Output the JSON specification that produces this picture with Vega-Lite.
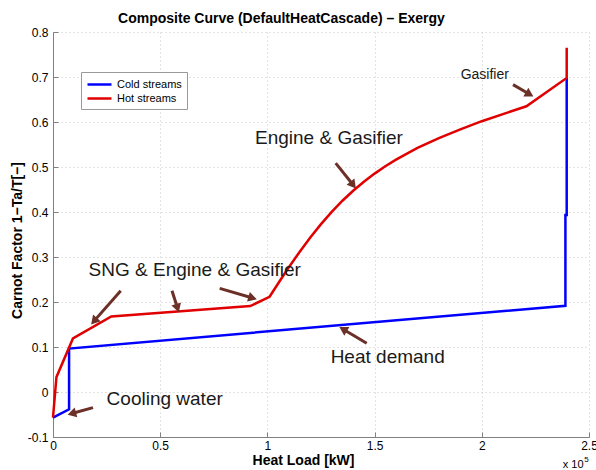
{
 "$schema": "https://vega.github.io/schema/vega-lite/v6.json",
 "width": 536, "height": 405,
 "autosize": "none",
 "padding": {"left": 53, "top": 32, "right": 7, "bottom": 33},
 "title": {"text": "Composite Curve (DefaultHeatCascade) – Exergy", "fontSize": 14, "fontWeight": "bold", "anchor": "middle", "dx": -39.5, "baseline": "alphabetic", "offset": -10.5, "color": "#000"},
 "datasets": {
  "curves": [
   {"stream": "Cold streams", "load": 0, "carnot": -0.057},
   {"stream": "Cold streams", "load": 7500, "carnot": -0.0385},
   {"stream": "Cold streams", "load": 7500, "carnot": 0.0966},
   {"stream": "Cold streams", "load": 239000, "carnot": 0.1915},
   {"stream": "Cold streams", "load": 239000, "carnot": 0.3935},
   {"stream": "Cold streams", "load": 239600, "carnot": 0.3935},
   {"stream": "Cold streams", "load": 239600, "carnot": 0.698},
   {"stream": "Hot streams", "load": 0, "carnot": -0.057},
   {"stream": "Hot streams", "load": 1600, "carnot": 0.033},
   {"stream": "Hot streams", "load": 9300, "carnot": 0.119},
   {"stream": "Hot streams", "load": 27200, "carnot": 0.168},
   {"stream": "Hot streams", "load": 92000, "carnot": 0.191},
   {"stream": "Hot streams", "load": 101000, "carnot": 0.2116},
   {"stream": "Hot streams", "load": 105000, "carnot": 0.2412},
   {"stream": "Hot streams", "load": 110000, "carnot": 0.2772},
   {"stream": "Hot streams", "load": 115000, "carnot": 0.3112},
   {"stream": "Hot streams", "load": 120000, "carnot": 0.3432},
   {"stream": "Hot streams", "load": 125000, "carnot": 0.373},
   {"stream": "Hot streams", "load": 130000, "carnot": 0.4003},
   {"stream": "Hot streams", "load": 135000, "carnot": 0.425},
   {"stream": "Hot streams", "load": 140000, "carnot": 0.4473},
   {"stream": "Hot streams", "load": 145000, "carnot": 0.4673},
   {"stream": "Hot streams", "load": 150000, "carnot": 0.4853},
   {"stream": "Hot streams", "load": 155000, "carnot": 0.5016},
   {"stream": "Hot streams", "load": 160000, "carnot": 0.5163},
   {"stream": "Hot streams", "load": 170000, "carnot": 0.5423},
   {"stream": "Hot streams", "load": 180000, "carnot": 0.5643},
   {"stream": "Hot streams", "load": 190000, "carnot": 0.5838},
   {"stream": "Hot streams", "load": 200000, "carnot": 0.6018},
   {"stream": "Hot streams", "load": 220800, "carnot": 0.635},
   {"stream": "Hot streams", "load": 239600, "carnot": 0.698},
   {"stream": "Hot streams", "load": 239600, "carnot": 0.765}
  ],
  "arrows": [
   {"label": "cooling", "x": 18660, "y": -0.0347, "x2": 8770, "y2": -0.0479},
   {"label": "snga", "x": 31580, "y": 0.225, "x2": 19120, "y2": 0.1575},
   {"label": "sngb", "x": 55500, "y": 0.2249, "x2": 58070, "y2": 0.1866},
   {"label": "sngc", "x": 77750, "y": 0.2303, "x2": 93100, "y2": 0.2089},
   {"label": "engine", "x": 131850, "y": 0.5087, "x2": 140020, "y2": 0.4599},
   {"label": "gasifier", "x": 214550, "y": 0.683, "x2": 222290, "y2": 0.6615},
   {"label": "heat", "x": 146320, "y": 0.1085, "x2": 135310, "y2": 0.1396}
  ],
  "labels": [
   {"text": "Cooling water", "x": 52100, "y": -0.0147},
   {"text": "SNG & Engine & Gasifier", "x": 66100, "y": 0.271},
   {"text": "Engine & Gasifier", "x": 128700, "y": 0.5644},
   {"text": "Heat demand", "x": 156100, "y": 0.0773}
  ],
  "small": [
   {"text": "Gasifier", "x": 201400, "y": 0.7053}
  ],
  "exp": [
   {"text": "x 10", "x": 242600, "y": -0.1633}
  ],
  "exp5": [
   {"text": "5", "x": 248800, "y": -0.1506}
  ]
 },
 "layer": [
  {
   "data": {"name": "curves"},
   "mark": {"type": "line", "strokeWidth": 2.5},
   "encoding": {
    "x": {"field": "load", "type": "quantitative", "scale": {"domain": [0, 250000], "nice": false, "zero": false},
     "axis": {"values": [0, 50000, 100000, 150000, 200000, 250000], "labelExpr": "datum.value / 100000", "title": "Heat Load [kW]", "titleX": 250, "titleY": 27, "titleBaseline": "alphabetic", "labelPadding": 8.5}},
    "y": {"field": "carnot", "type": "quantitative", "scale": {"domain": [-0.1, 0.8], "nice": false, "zero": false},
     "axis": {"values": [-0.1, 0, 0.1, 0.2, 0.3, 0.4, 0.5, 0.6, 0.7, 0.8], "labelExpr": "datum.value < 0 ? '-' + format(-datum.value, '.1f') : (datum.value == 0 ? '0' : format(datum.value, '.1f'))", "title": "Carnot Factor 1−Ta/T[−]", "titleX": -32, "titleY": 208, "titleBaseline": "alphabetic", "titleAngle": -90, "labelPadding": 10}},
    "color": {"field": "stream", "type": "nominal", "scale": {"domain": ["Cold streams", "Hot streams"], "range": ["#0000ff", "#e00000"]},
     "legend": {"title": null, "orient": "none", "legendX": 28, "legendY": 40, "symbolType": "M-1,0H3", "symbolSize": 144, "symbolStrokeWidth": 2.5, "labelFontSize": 11, "padding": 5, "rowPadding": 1, "strokeColor": "#999", "fillColor": "white", "labelOffset": 16, "cornerRadius": 0, "labelColor": "#000"}},
    "order": {"value": null}
   }
  },
  {
   "data": {"name": "arrows"},
   "mark": {"type": "rule", "strokeWidth": 3, "color": "#6b3027"},
   "encoding": {
    "x": {"field": "x", "type": "quantitative"},
    "y": {"field": "y", "type": "quantitative"},
    "x2": {"field": "x2"},
    "y2": {"field": "y2"}
   }
  },
  {"data": {"name": "arrows"}, "transform": [{"filter": "datum.label == 'cooling'"}], "mark": {"type": "point", "shape": "triangle-up", "angle": 254.4, "filled": true, "size": 100, "color": "#6b3027", "opacity": 1}, "encoding": {"x": {"field": "x2", "type": "quantitative"}, "y": {"field": "y2", "type": "quantitative"}}},
  {"data": {"name": "arrows"}, "transform": [{"filter": "datum.label == 'snga'"}], "mark": {"type": "point", "shape": "triangle-up", "angle": 221.3, "filled": true, "size": 100, "color": "#6b3027", "opacity": 1}, "encoding": {"x": {"field": "x2", "type": "quantitative"}, "y": {"field": "y2", "type": "quantitative"}}},
  {"data": {"name": "arrows"}, "transform": [{"filter": "datum.label == 'sngb'"}], "mark": {"type": "point", "shape": "triangle-up", "angle": 162.3, "filled": true, "size": 100, "color": "#6b3027", "opacity": 1}, "encoding": {"x": {"field": "x2", "type": "quantitative"}, "y": {"field": "y2", "type": "quantitative"}}},
  {"data": {"name": "arrows"}, "transform": [{"filter": "datum.label == 'sngc'"}], "mark": {"type": "point", "shape": "triangle-up", "angle": 106.3, "filled": true, "size": 100, "color": "#6b3027", "opacity": 1}, "encoding": {"x": {"field": "x2", "type": "quantitative"}, "y": {"field": "y2", "type": "quantitative"}}},
  {"data": {"name": "arrows"}, "transform": [{"filter": "datum.label == 'engine'"}], "mark": {"type": "point", "shape": "triangle-up", "angle": 141.3, "filled": true, "size": 100, "color": "#6b3027", "opacity": 1}, "encoding": {"x": {"field": "x2", "type": "quantitative"}, "y": {"field": "y2", "type": "quantitative"}}},
  {"data": {"name": "arrows"}, "transform": [{"filter": "datum.label == 'gasifier'"}], "mark": {"type": "point", "shape": "triangle-up", "angle": 120.3, "filled": true, "size": 100, "color": "#6b3027", "opacity": 1}, "encoding": {"x": {"field": "x2", "type": "quantitative"}, "y": {"field": "y2", "type": "quantitative"}}},
  {"data": {"name": "arrows"}, "transform": [{"filter": "datum.label == 'heat'"}], "mark": {"type": "point", "shape": "triangle-up", "angle": 300.7, "filled": true, "size": 100, "color": "#6b3027", "opacity": 1}, "encoding": {"x": {"field": "x2", "type": "quantitative"}, "y": {"field": "y2", "type": "quantitative"}}},
  {
   "data": {"name": "labels"},
   "mark": {"type": "text", "fontSize": 19, "align": "center", "baseline": "middle", "color": "#1a1a1a"},
   "encoding": {"x": {"field": "x", "type": "quantitative"}, "y": {"field": "y", "type": "quantitative"}, "text": {"field": "text"}}
  },
  {
   "data": {"name": "small"},
   "mark": {"type": "text", "fontSize": 14, "align": "center", "baseline": "middle", "color": "#1a1a1a"},
   "encoding": {"x": {"field": "x", "type": "quantitative"}, "y": {"field": "y", "type": "quantitative"}, "text": {"field": "text"}}
  },
  {
   "data": {"name": "exp"},
   "mark": {"type": "text", "fontSize": 11, "align": "center", "baseline": "middle", "color": "#000"},
   "encoding": {"x": {"field": "x", "type": "quantitative"}, "y": {"field": "y", "type": "quantitative"}, "text": {"field": "text"}}
  },
  {
   "data": {"name": "exp5"},
   "mark": {"type": "text", "fontSize": 8, "align": "center", "baseline": "middle", "color": "#000"},
   "encoding": {"x": {"field": "x", "type": "quantitative"}, "y": {"field": "y", "type": "quantitative"}, "text": {"field": "text"}}
  }
 ],
 "config": {
  "font": "Liberation Sans",
  "view": {"stroke": null},
  "axis": {
   "grid": true, "gridColor": "#c8c8c8", "gridDash": [1, 3], "gridWidth": 1,
   "domainColor": "#808080", "domainWidth": 1,
   "tickColor": "#808080", "tickSize": -5, "tickWidth": 1,
   "labelFontSize": 12, "labelColor": "#000", "labelFlush": false,
   "titleFontSize": 14, "titleFontWeight": "bold", "titleColor": "#000"
  }
 }
}
